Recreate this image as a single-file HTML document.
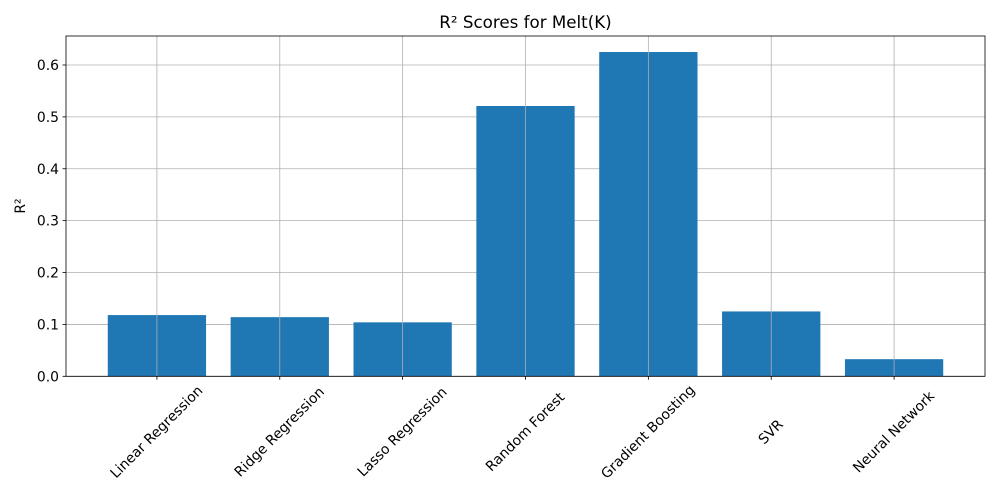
<!DOCTYPE html>
<html><head><meta charset="utf-8"><style>body{margin:0;background:#fff}svg{display:block;font-family:"DejaVu Sans","Liberation Sans",sans-serif}</style></head>
<body>
<svg id="chart" width="1000" height="500" viewBox="0 0 1000 500">
<text x="525.5" y="28" text-anchor="middle" font-size="16.7">R² Scores for Melt(K)</text>
<g id="grid"></g><g id="bars"></g><g id="vgrid"></g><g id="axes"></g>
<text transform="translate(25,206) rotate(-90)" text-anchor="middle" font-size="13.9">R²</text>
</svg>
<script>
const categories=["Linear Regression","Ridge Regression","Lasso Regression","Random Forest","Gradient Boosting","SVR","Neural Network"];
const values=[0.118,0.114,0.104,0.521,0.625,0.125,0.033];
const yTicks=[0,0.1,0.2,0.3,0.4,0.5,0.6];
const yTickLabels=["0.0","0.1","0.2","0.3","0.4","0.5","0.6"];
const NS="http://www.w3.org/2000/svg";
const L=66,R=985,T=36,B=376.3;
const yMax=0.6559;
const xMin=-0.74,xMax=categories.length-1+0.74;
const x=i=>L+(i-xMin)/(xMax-xMin)*(R-L);
const y=v=>B-v/yMax*(B-T);
const bw=0.8*(R-L)/(xMax-xMin);
function mk(p,tag,a){const e=document.createElementNS(NS,tag);for(const k in a)e.setAttribute(k,a[k]);document.getElementById(p).appendChild(e);return e;}
yTicks.forEach((t,i)=>{
 let g=mk("grid","line",{x1:L,x2:R,y1:y(t),y2:y(t),stroke:"#b0b0b0","stroke-width":0.8});
 
 
 mk("axes","line",{x1:L-3.5,x2:L,y1:y(t),y2:y(t),stroke:"#000","stroke-width":0.8});
 let lb=mk("axes","text",{x:L-7,y:y(t)+5,"text-anchor":"end","font-size":13.9});
 lb.textContent=yTickLabels[i];
 
 
});
values.forEach((v,i)=>{
 let b=mk("bars","rect",{x:x(i)-bw/2,y:y(v),width:bw,height:B-y(v),fill:"#1f77b4"});
 
 
 let g=mk("vgrid","line",{x1:x(i),x2:x(i),y1:T,y2:B,stroke:"#b0b0b0","stroke-width":0.8});
 
 
 mk("axes","line",{x1:x(i),x2:x(i),y1:B,y2:B+3.5,stroke:"#000","stroke-width":0.8});
 let lb=mk("axes","text",{transform:`translate(${x(i)},${B+56}) rotate(-45)`,"text-anchor":"middle","dominant-baseline":"middle","font-size":13.9});
 lb.textContent=categories[i];
 
 
});
let f=mk("axes","rect",{x:L,y:T,width:R-L,height:B-T,fill:"none",stroke:"#000","stroke-width":0.8});


</script>
</body></html>
